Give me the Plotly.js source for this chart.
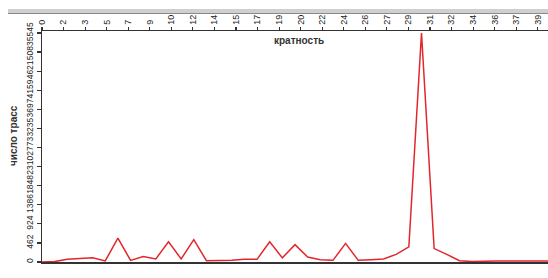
<!DOCTYPE html>
<html>
<head>
<meta charset="utf-8">
<script src="https://cdn.plot.ly/plotly-3.0.1.min.js"></script>
<style>
html,body{margin:0;padding:0;background:#fff;}
#chart{width:548px;height:278px;}
</style>
</head>
<body>
<div id="chart"></div>
<script>
// multiplicity (x) and number of traces (y)
const multiplicity = [0,1,2,3,4,5,6,7,8,9,10,11,12,13,14,15,16,17,18,19,20,21,22,23,24,25,26,27,28,29,30,31,32,33,34,35,36,37,38,39,40];
const traceCount   = [0,10,65,80,105,25,580,40,130,75,490,75,540,30,30,40,65,65,490,100,420,120,55,40,450,40,55,75,185,365,5545,325,185,30,10,25,25,25,25,25,25];

const xTickLabels = ["0","2","3","5","7","9","10","12","14","15","17","19","20","22","24","26","27","29","31","32","34","36","37","39"];
const xTickStep = 1.704;
const yTickLabels = ["0","462","924","1386","1848","2310","2773","3235","3697","4159","4621","5083","5545"];
const yTickStep = 462.08;

const xTickVals = xTickLabels.map((_, i) => i * xTickStep);
const yTickVals = yTickLabels.map((_, i) => i * yTickStep);

const trace = {
  x: multiplicity,
  y: traceCount,
  type: 'scatter',
  mode: 'lines',
  line: {color: '#e3262b', width: 1.5},
  hoverinfo: 'skip'
};

const layout = {
  width: 548, height: 278,
  margin: {l: 42, r: 0, t: 31, b: 16, pad: 0},
  paper_bgcolor: '#ffffff',
  plot_bgcolor: '#ffffff',
  showlegend: false,
  font: {family: 'Liberation Sans, Arial, sans-serif', color: '#222'},
  xaxis: {
    side: 'top',
    range: [0, 40],
    tickmode: 'array',
    tickvals: xTickVals,
    ticktext: xTickLabels,
    tickangle: -90,
    ticks: 'outside',
    ticklen: 3,
    tickwidth: 1.2,
    tickcolor: '#333',
    tickfont: {size: 9, color: '#222'},
    showline: true,
    linecolor: '#333',
    linewidth: 1.5,
    mirror: true,
    showgrid: false,
    zeroline: false,
    fixedrange: true
  },
  yaxis: {
    range: [0, 5593],
    tickmode: 'array',
    tickvals: yTickVals,
    ticktext: yTickLabels,
    tickangle: -90,
    ticks: 'outside',
    ticklen: 4,
    tickwidth: 1.2,
    tickcolor: '#333',
    tickfont: {size: 8.5, color: '#222'},
    showline: true,
    linecolor: '#333',
    linewidth: 1.5,
    showgrid: false,
    zeroline: false,
    fixedrange: true
  },
  annotations: [
    {
      text: '<b>кратность</b>',
      xref: 'paper', yref: 'paper',
      x: (299 - 42) / 506, y: (262 - 41) / 231,
      xanchor: 'center', yanchor: 'middle',
      showarrow: false,
      font: {size: 10, color: '#333'}
    },
    {
      text: '<b>число трасс</b>',
      xref: 'paper', yref: 'paper',
      x: (13 - 42) / 506, y: (262 - 136) / 231,
      xanchor: 'center', yanchor: 'middle',
      textangle: -90,
      showarrow: false,
      font: {size: 10, color: '#333'}
    }
  ],
  shapes: [
    {
      type: 'rect', xref: 'paper', yref: 'paper', layer: 'below',
      x0: (8 - 42) / 506, x1: 1.01,
      y0: (262 - 14) / 231, y1: (262 - 9) / 231,
      fillcolor: '#cfcfcf', line: {width: 0}
    },
    {
      type: 'line', xref: 'paper', yref: 'paper',
      x0: (8 - 42) / 506, x1: 1.01,
      y0: (262 - 13.5) / 231, y1: (262 - 13.5) / 231,
      line: {color: '#8a8a8a', width: 1.2}
    }
  ]
};

Plotly.newPlot('chart', [trace], layout, {displayModeBar: false, staticPlot: true});
</script>
</body>
</html>
